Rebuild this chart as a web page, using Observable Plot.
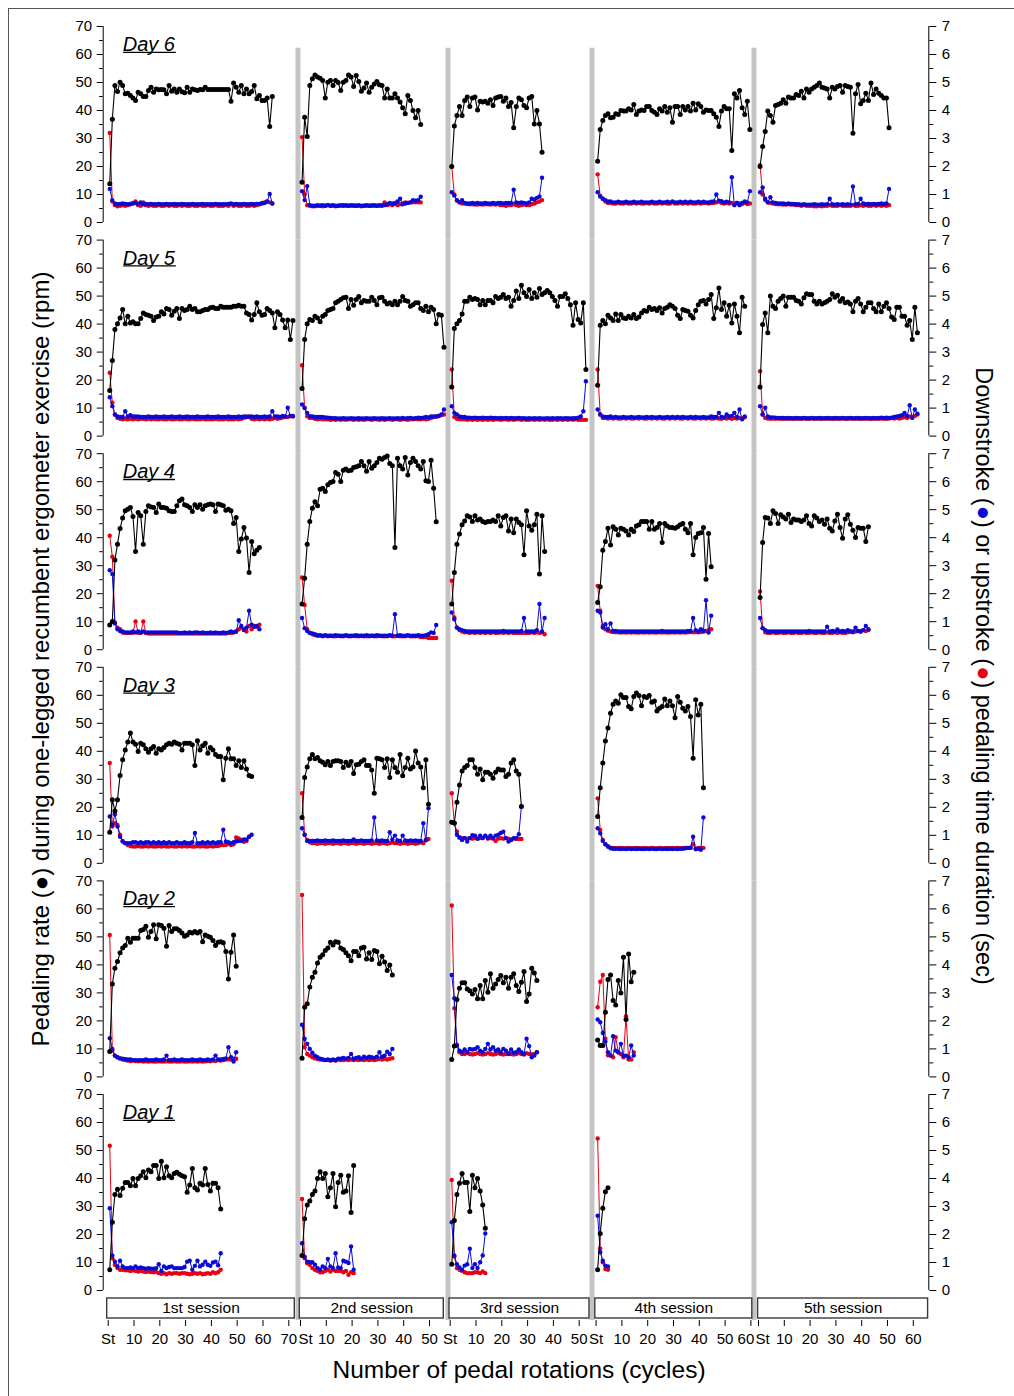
<!DOCTYPE html>
<html>
<head>
<meta charset="utf-8">
<script src="https://cdn.jsdelivr.net/npm/d3@7"></script>
<script src="https://cdn.jsdelivr.net/npm/@observablehq/plot@0.6"></script>
<style>
  body { margin: 0; background: #fff; }
  #wrap { position: relative; width: 1014px; height: 1396px; background: #fff; font-family: "Liberation Sans", Arial, sans-serif; overflow: hidden; }
  #border { position: absolute; left: 8px; top: 8px; right: -4px; bottom: -4px; border-left: 1px solid #555; border-top: 1px solid #555; pointer-events: none; }
  #main, #strip { position: absolute; left: 0; }
  #main { top: 0; }
  #strip { top: 1298px; }
  #xtitle { position: absolute; top: 1355px; left: 519px; transform: translateX(-50%); font-size: 24.5px; line-height: 30px; white-space: nowrap; color: #000; }
</style>
</head>
<body>
<div id="wrap">
  <div id="border"></div>
  <div id="main"></div>
  <div id="strip"></div>
  <div id="xtitle">Number of pedal rotations (cycles)</div>
</div>
<script>
// ---------------- categories & ticks ----------------
const days = [6, 5, 4, 3, 2, 1];
const sessionNames = ["1st session", "2nd session", "3rd session", "4th session", "5th session"];
const sessionTicks = [
  [0, 10, 20, 30, 40, 50, 60, 70],
  [0, 10, 20, 30, 40, 50],
  [0, 10, 20, 30, 40, 50],
  [0, 10, 20, 30, 40, 50, 60],
  [0, 10, 20, 30, 40, 50, 60]
];
const leftTicks = [0, 10, 20, 30, 40, 50, 60, 70];          // rpm
const leftMinor = [5, 15, 25, 35, 45, 55, 65];
const rightTicks = [0, 1, 2, 3, 4, 5, 6, 7];                 // sec
const rightMinor = [0.5, 1.5, 2.5, 3.5, 4.5, 5.5, 6.5];

// ---------------- data: pedaling rate (rpm), downstroke & upstroke time (sec) ----------------
// Day 6
const rate_d6_s1 = [13.8,36.9,48.9,46.8,50.1,48.9,46,46.2,45.4,44.5,43.6,46.5,46,45,45,47.1,48.3,46.5,47.7,47.4,47.5,47.4,46,48.9,46.9,47.7,46.5,47.7,46.7,46.3,48.3,46.5,47.7,47.4,47.1,47.5,47.4,48.3,47.5,47.5,47.5,47.5,47.5,47.5,47.5,47.5,47.5,43.3,49.8,48.3,46.5,48.9,46,47.7,46,46.8,48.9,44.2,45.4,43.6,43.6,44.5,34.3,45];
const up_d6_s1 = [3.2,0.75,0.62,0.58,0.6,0.62,0.6,0.62,0.65,0.7,0.75,0.62,0.6,0.72,0.62,0.6,0.62,0.6,0.6,0.62,0.6,0.6,0.62,0.6,0.62,0.6,0.6,0.62,0.6,0.62,0.6,0.6,0.62,0.6,0.6,0.62,0.6,0.6,0.62,0.6,0.6,0.62,0.6,0.6,0.6,0.62,0.6,0.65,0.6,0.62,0.6,0.6,0.62,0.6,0.6,0.62,0.6,0.62,0.65,0.7,0.72,0.75,0.72,0.68];
const down_d6_s1 = [1.2,0.8,0.68,0.65,0.66,0.68,0.66,0.65,0.66,0.68,0.7,0.66,0.72,0.65,0.66,0.65,0.66,0.65,0.65,0.66,0.65,0.65,0.66,0.65,0.65,0.66,0.65,0.65,0.66,0.65,0.65,0.65,0.66,0.65,0.65,0.65,0.66,0.65,0.65,0.65,0.65,0.66,0.65,0.65,0.65,0.65,0.66,0.68,0.65,0.66,0.65,0.65,0.66,0.65,0.65,0.66,0.65,0.66,0.66,0.68,0.7,0.75,1.02,0.68];
const rate_d6_s2 = [14.4,37.6,30.7,48.9,51.3,52.7,52,51.5,50.7,44.5,50.1,50.7,48.9,50.7,50,47.1,50.1,50.7,52.7,52,48.6,52.5,50.4,46.9,48,49.8,46.5,48.3,49.5,50.4,49.2,48.9,44.5,47.7,44.5,44.5,46,44.5,43,41,38.8,45.4,43.6,40,37.4,40,35];
const up_d6_s2 = [3.05,1.0,0.62,0.6,0.58,0.58,0.6,0.6,0.58,0.6,0.62,0.6,0.6,0.58,0.6,0.6,0.62,0.6,0.6,0.6,0.62,0.6,0.6,0.58,0.6,0.6,0.6,0.62,0.6,0.6,0.6,0.62,0.72,0.62,0.65,0.62,0.7,0.62,0.65,0.68,0.72,0.7,0.72,0.72,0.72,0.72,0.72];
const down_d6_s2 = [1.12,0.8,1.3,0.62,0.6,0.6,0.62,0.6,0.62,0.6,0.62,0.6,0.62,0.6,0.6,0.62,0.6,0.62,0.6,0.62,0.6,0.6,0.62,0.6,0.6,0.62,0.6,0.6,0.62,0.6,0.62,0.6,0.62,0.65,0.7,0.68,0.68,0.75,0.85,0.65,0.68,0.7,0.72,0.8,0.78,0.8,0.92];
const rate_d6_s3 = [20,34.5,38.2,41.4,38.2,43.6,44.8,41.4,44.5,44.8,40.2,43.3,43,43.3,42.6,43.8,41.8,44.5,44.8,45,43.3,44.5,41.4,42.9,33.8,41.4,44.5,43.8,41.8,41,44.5,45,35.2,40,35.2,25.1];
const up_d6_s3 = [2.0,1.0,0.78,0.72,0.68,0.68,0.66,0.65,0.65,0.64,0.64,0.65,0.64,0.65,0.65,0.64,0.65,0.64,0.65,0.62,0.62,0.6,0.62,0.62,0.66,0.62,0.6,0.62,0.64,0.62,0.62,0.65,0.68,0.72,0.75,0.8];
const down_d6_s3 = [1.08,0.96,0.8,0.72,0.8,0.7,0.68,0.68,0.7,0.68,0.7,0.68,0.68,0.7,0.68,0.68,0.7,0.68,0.7,0.7,0.68,0.7,0.7,0.7,1.17,0.72,0.7,0.72,0.7,0.68,0.72,0.85,0.82,0.88,0.93,1.6];
const rate_d6_s4 = [21.9,33.2,36.4,38.2,38.8,37.4,37.6,38.8,38.6,40,39.8,39.8,40.6,40.2,42.1,38.6,39.8,40.2,40,41.4,41.4,40,39.4,38.6,40.6,39.8,41.4,39.4,41,35.8,41.4,41.4,38.6,41.4,40.2,41.4,39.8,42.6,40.2,42.4,41.4,39.4,40.2,40,40,38.8,37.6,34.3,39.8,41.4,40.6,40.6,25.7,46,44.5,47.1,41,38.6,43.3,33.2];
const up_d6_s4 = [1.72,0.95,0.85,0.75,0.7,0.7,0.68,0.68,0.7,0.68,0.68,0.7,0.68,0.68,0.7,0.68,0.7,0.68,0.68,0.7,0.68,0.7,0.68,0.68,0.7,0.68,0.7,0.68,0.68,0.72,0.68,0.68,0.7,0.68,0.7,0.68,0.7,0.68,0.68,0.7,0.68,0.7,0.7,0.68,0.7,0.7,0.72,0.75,0.7,0.68,0.7,0.68,0.7,0.66,0.7,0.68,0.66,0.7,0.66,0.68];
const down_d6_s4 = [1.08,0.93,0.85,0.8,0.75,0.75,0.72,0.72,0.74,0.72,0.72,0.74,0.72,0.72,0.74,0.72,0.72,0.74,0.72,0.72,0.72,0.74,0.72,0.72,0.74,0.72,0.72,0.74,0.72,0.75,0.72,0.72,0.74,0.72,0.74,0.72,0.74,0.72,0.72,0.74,0.72,0.74,0.72,0.72,0.74,0.75,1.0,0.78,0.76,0.72,0.74,0.72,1.62,0.62,0.7,0.62,0.7,0.75,0.72,1.12];
const rate_d6_s5 = [20,27.1,32.5,39.8,38.2,35.8,41.8,42.1,42.6,43.8,42.6,44.8,44.5,44.5,45.7,45.4,46.9,44.5,47.7,46.5,47.7,48.3,48.9,49.8,48.3,48,47.7,44.5,48.3,47.7,48.6,48.9,46.5,48.9,48.6,48.3,31.9,46,49.3,42.4,43.6,46.2,43.6,49.8,45.7,47.7,46.2,45.4,44.5,44.5,33.8];
const up_d6_s5 = [2.05,1.0,0.8,0.72,0.7,0.68,0.66,0.65,0.65,0.64,0.64,0.65,0.64,0.64,0.62,0.62,0.6,0.62,0.6,0.6,0.6,0.58,0.58,0.6,0.58,0.6,0.6,0.62,0.6,0.6,0.6,0.62,0.6,0.6,0.6,0.6,0.62,0.6,0.6,0.62,0.6,0.62,0.6,0.6,0.62,0.6,0.62,0.6,0.62,0.6,0.62];
const down_d6_s5 = [1.08,1.25,0.85,0.72,0.9,0.72,0.7,0.68,0.68,0.68,0.66,0.68,0.66,0.66,0.65,0.65,0.64,0.65,0.64,0.64,0.64,0.65,0.64,0.64,0.65,0.64,0.65,0.85,0.65,0.64,0.65,0.64,0.65,0.64,0.65,0.64,1.29,0.65,0.66,0.85,0.68,0.65,0.66,0.65,0.66,0.65,0.66,0.68,0.66,0.68,1.2];
// Day 5
const rate_d5_s1 = [16.3,27,38.1,40.1,42.2,45.2,40.1,42.8,40.4,40.8,40.1,40.1,42,44,43.4,43.2,42.8,41.3,42.5,42.8,44.4,43.6,45.6,45.2,43.2,44.6,45.6,42,45.6,44.9,45.2,46.4,45.2,45.6,44.4,44.4,44.9,45.2,45.2,45.8,46,45.6,45.6,46.4,46,46,46,46,46.4,46.4,46.7,46.4,46.4,44,43.4,41.5,43.4,47.6,44.4,43.2,43.4,45.6,44.9,44,38.7,44.4,43.4,41.5,38.7,41.5,34.5,41.3];
const up_d5_s1 = [2.26,1.19,0.77,0.65,0.62,0.6,0.62,0.6,0.62,0.6,0.62,0.6,0.62,0.62,0.6,0.62,0.6,0.62,0.6,0.6,0.62,0.6,0.6,0.62,0.6,0.6,0.62,0.6,0.6,0.62,0.6,0.6,0.62,0.6,0.6,0.6,0.62,0.6,0.6,0.6,0.6,0.62,0.6,0.6,0.6,0.62,0.6,0.6,0.6,0.62,0.6,0.62,0.65,0.7,0.68,0.62,0.6,0.62,0.6,0.62,0.6,0.62,0.6,0.62,0.65,0.62,0.64,0.66,0.68,0.68,0.72,0.7];
const down_d5_s1 = [1.39,1.07,0.77,0.7,0.68,0.68,0.89,0.7,0.75,0.7,0.7,0.7,0.68,0.68,0.68,0.7,0.68,0.68,0.7,0.68,0.68,0.7,0.68,0.68,0.7,0.68,0.68,0.7,0.68,0.68,0.7,0.68,0.68,0.68,0.7,0.68,0.68,0.68,0.7,0.68,0.68,0.68,0.7,0.68,0.68,0.68,0.7,0.68,0.68,0.68,0.7,0.68,0.7,0.68,0.7,0.7,0.68,0.7,0.68,0.68,0.7,0.68,0.7,0.89,0.7,0.7,0.68,0.72,0.7,1.01,0.72,0.72];
const rate_d5_s2 = [17,34.5,40.1,41.6,41.3,42.8,42.2,40.8,42.8,43.4,44.9,45.2,45.6,47.6,48.2,48.8,49.4,49.6,45.6,48.8,46.7,48.8,49.9,47.6,48.4,48.2,48.2,49.6,48.4,46.9,49.4,49.6,48.2,47.2,47.6,46.9,48.2,46.9,48.2,49.9,48.4,48.2,46.4,46.9,47.6,47.6,45.6,44.9,46.4,44.4,46,45.2,40.1,43.4,43.2,31.7];
const up_d5_s2 = [2.53,1.01,0.71,0.65,0.65,0.62,0.6,0.62,0.6,0.6,0.6,0.58,0.6,0.58,0.6,0.58,0.6,0.58,0.6,0.6,0.58,0.6,0.58,0.6,0.58,0.6,0.6,0.58,0.6,0.6,0.58,0.6,0.58,0.6,0.6,0.58,0.6,0.6,0.58,0.6,0.6,0.58,0.6,0.6,0.62,0.6,0.6,0.62,0.6,0.62,0.65,0.68,0.7,0.72,0.75,0.77];
const down_d5_s2 = [1.13,1.0,0.83,0.71,0.7,0.68,0.68,0.68,0.68,0.67,0.66,0.65,0.64,0.64,0.63,0.63,0.64,0.63,0.63,0.64,0.63,0.63,0.64,0.63,0.63,0.64,0.63,0.63,0.64,0.63,0.63,0.64,0.63,0.63,0.64,0.63,0.63,0.64,0.63,0.65,0.63,0.64,0.65,0.63,0.64,0.66,0.65,0.66,0.68,0.67,0.7,0.7,0.7,0.72,0.77,0.95];
const rate_d5_s3 = [17.5,38.4,40.1,41.3,43.6,48.2,48.2,49.6,48.8,49.1,48.8,46.9,48.4,46.9,48.4,48.4,47.6,49.9,49.1,49.6,50.6,49.1,49.6,46.4,48.4,51.8,49.1,53.9,51.2,49.9,52.4,49.1,51.2,49.6,52.7,50.6,51.2,52,51.2,49.9,48.4,46.4,49.9,49.9,50.8,49.1,46.9,39.6,47.6,41.6,40.4,47.6,23.8];
const up_d5_s3 = [2.38,0.68,0.62,0.6,0.6,0.6,0.58,0.6,0.58,0.6,0.58,0.6,0.58,0.6,0.58,0.6,0.58,0.6,0.6,0.58,0.6,0.6,0.58,0.6,0.58,0.6,0.6,0.58,0.6,0.58,0.58,0.6,0.58,0.6,0.58,0.6,0.58,0.6,0.58,0.58,0.6,0.58,0.6,0.58,0.6,0.58,0.6,0.58,0.6,0.58,0.58,0.58,0.58];
const down_d5_s3 = [1.07,0.83,0.77,0.7,0.68,0.68,0.66,0.66,0.65,0.66,0.65,0.65,0.66,0.65,0.65,0.66,0.65,0.65,0.64,0.65,0.64,0.65,0.64,0.65,0.64,0.64,0.65,0.64,0.64,0.63,0.64,0.63,0.64,0.63,0.64,0.63,0.63,0.64,0.63,0.64,0.63,0.64,0.64,0.63,0.64,0.64,0.63,0.64,0.64,0.66,0.7,0.89,1.96];
const rate_d5_s4 = [18.2,39.6,41.3,40.1,43.2,42.2,41.3,43.6,41.3,43.4,42.2,42,42.8,42.2,43.4,42,42.5,44,44.9,44.6,46,45.2,45.6,44.9,45.8,44,45.6,46,46.9,46.4,45.6,43.2,42,45.2,44.9,44.6,43.2,42.2,44.9,46.9,48.2,48.4,47.2,48.8,50.6,42,45.8,52.9,45.2,47.6,42.8,46.7,40.4,47.2,42.8,36.9,49.6,46.4];
const up_d5_s4 = [2.38,0.77,0.65,0.65,0.63,0.65,0.63,0.65,0.63,0.63,0.65,0.63,0.65,0.63,0.63,0.65,0.63,0.65,0.63,0.63,0.65,0.63,0.65,0.63,0.65,0.63,0.63,0.65,0.63,0.65,0.63,0.65,0.63,0.63,0.65,0.63,0.65,0.63,0.63,0.65,0.63,0.65,0.63,0.65,0.63,0.63,0.65,0.63,0.62,0.65,0.63,0.65,0.62,0.65,0.63,0.65,0.62,0.67];
const down_d5_s4 = [0.95,0.77,0.7,0.68,0.68,0.7,0.67,0.68,0.67,0.67,0.68,0.67,0.67,0.68,0.67,0.67,0.68,0.67,0.67,0.68,0.67,0.68,0.67,0.67,0.68,0.67,0.67,0.68,0.67,0.68,0.67,0.68,0.67,0.68,0.67,0.67,0.68,0.67,0.68,0.67,0.67,0.68,0.67,0.67,0.7,0.68,0.68,0.83,0.68,0.67,0.77,0.7,0.72,0.83,0.68,0.95,0.6,0.7];
const rate_d5_s5 = [17.5,39.9,44,36.9,50,46.4,45.6,48.2,49.1,50,46.4,49.6,49.6,49.6,48.4,48.2,47.2,49.4,50.8,50.6,50.6,48.2,47.2,48.2,47.2,47.6,48.2,48.8,50.8,49.6,50.3,48.2,49.1,47.6,47.9,47.2,44.4,48.2,49.1,47.2,44.4,46,47.6,47.6,45.6,44.4,47.2,44.4,46.4,47.6,45.6,42.5,41.6,46,46,42.8,42.8,39.6,41.3,34.5,46,36.9];
const up_d5_s5 = [2.32,0.77,0.65,0.63,0.62,0.63,0.62,0.63,0.62,0.62,0.63,0.62,0.63,0.62,0.62,0.63,0.62,0.63,0.62,0.62,0.63,0.62,0.63,0.62,0.62,0.63,0.62,0.63,0.62,0.62,0.63,0.62,0.63,0.62,0.62,0.63,0.62,0.63,0.62,0.62,0.63,0.62,0.63,0.62,0.62,0.63,0.62,0.63,0.62,0.62,0.63,0.65,0.63,0.65,0.63,0.65,0.68,0.65,0.7,0.68,0.72,0.77];
const down_d5_s5 = [1.07,0.77,1.01,0.7,0.67,0.67,0.66,0.65,0.65,0.65,0.64,0.65,0.64,0.64,0.65,0.64,0.64,0.65,0.64,0.64,0.65,0.64,0.64,0.65,0.64,0.64,0.65,0.64,0.64,0.65,0.64,0.64,0.65,0.64,0.64,0.65,0.64,0.64,0.65,0.64,0.64,0.65,0.64,0.64,0.65,0.64,0.65,0.66,0.65,0.66,0.65,0.66,0.68,0.7,0.72,0.75,0.83,0.72,1.1,0.65,0.95,0.8];
// Day 4
const rate_d4_s1 = [8.8,10.1,32,37.7,43.3,47,49.6,50.2,50.8,47.6,35.1,49,47.8,37.7,49.4,51.4,51,50.8,49,52,50.8,50.8,50.5,49.6,49.4,49.4,51.4,53.2,53.8,51.8,51.4,50.8,49.4,51.8,50.8,51.8,50.2,51.4,51.8,52,51.8,49.4,52,51.8,51.4,49.8,50.2,49.6,45.1,47.2,35.1,39.5,43.6,39.9,27.6,38.6,34.3,35.5,36.5];
const up_d4_s1 = [4.07,3.32,0.97,0.79,0.73,0.61,0.6,0.6,0.6,0.6,1.01,0.6,0.6,1.01,0.6,0.58,0.58,0.58,0.58,0.58,0.58,0.58,0.58,0.58,0.58,0.58,0.58,0.58,0.58,0.58,0.58,0.58,0.58,0.58,0.58,0.58,0.58,0.58,0.58,0.58,0.58,0.58,0.58,0.58,0.58,0.58,0.6,0.6,0.62,0.65,0.73,0.79,0.73,0.65,0.85,0.73,0.85,0.82,0.89];
const down_d4_s1 = [2.84,2.7,0.94,0.73,0.67,0.65,0.62,0.62,0.62,0.65,0.62,0.65,0.62,0.65,0.62,0.62,0.62,0.62,0.62,0.62,0.62,0.62,0.62,0.62,0.62,0.62,0.62,0.6,0.6,0.62,0.6,0.62,0.6,0.62,0.62,0.6,0.62,0.6,0.6,0.62,0.6,0.62,0.6,0.6,0.62,0.6,0.62,0.65,0.62,0.65,1.05,0.85,0.7,0.79,1.39,0.89,0.82,0.85,0.73];
const rate_d4_s2 = [16.3,25.5,37.7,45.8,50.5,52.8,51.4,57.3,57.7,56.5,58.9,59.7,60.1,63.3,62.7,60.1,64.1,64.5,63.9,64.1,65.1,65.3,65.7,67.2,65.7,63.7,67.2,64.8,65.7,66.9,68.4,68,68.6,69.2,66.5,65.7,36.5,68.4,65.7,64.5,68.6,62.4,66.9,68.4,67.2,65.7,64.5,67.2,60.3,60.1,67.7,57.7,45.7];
const up_d4_s2 = [2.58,1.6,0.73,0.61,0.55,0.52,0.5,0.5,0.48,0.5,0.48,0.5,0.48,0.48,0.5,0.48,0.48,0.5,0.48,0.48,0.5,0.48,0.48,0.5,0.48,0.48,0.48,0.5,0.48,0.48,0.5,0.48,0.48,0.48,0.5,0.48,0.48,0.5,0.48,0.48,0.48,0.5,0.48,0.48,0.48,0.48,0.45,0.45,0.45,0.42,0.42,0.42,0.42];
const down_d4_s2 = [1.13,0.77,0.67,0.6,0.58,0.55,0.52,0.52,0.5,0.52,0.5,0.5,0.5,0.52,0.5,0.5,0.5,0.52,0.5,0.5,0.5,0.52,0.5,0.5,0.5,0.52,0.5,0.5,0.5,0.52,0.5,0.5,0.5,0.5,0.52,0.5,1.27,0.5,0.52,0.5,0.5,0.52,0.5,0.5,0.5,0.52,0.5,0.5,0.52,0.55,0.62,0.6,0.88];
const rate_d4_s3 = [16.3,27.6,37.7,41.3,44.6,46,47.8,47.4,45.8,47.8,46.3,46.7,45.8,45.4,45.8,45.8,46.3,45.8,47.8,44.2,47.2,47.8,42.4,46.7,41.8,46.7,45.4,44.6,33.9,49.6,44.2,42.7,44.6,48.4,27,47.8,35.1];
const up_d4_s3 = [2.46,1.15,0.79,0.7,0.65,0.62,0.62,0.6,0.62,0.6,0.62,0.6,0.62,0.6,0.62,0.6,0.62,0.6,0.6,0.62,0.6,0.62,0.6,0.62,0.6,0.6,0.6,0.6,0.6,0.6,0.6,0.62,0.6,0.62,0.6,0.62,0.55];
const down_d4_s3 = [1.33,1.09,0.79,0.73,0.7,0.67,0.65,0.65,0.65,0.65,0.65,0.65,0.65,0.65,0.65,0.65,0.65,0.65,0.65,0.65,0.67,0.65,0.65,0.65,0.65,0.65,0.65,0.67,1.13,0.65,0.65,0.65,0.65,0.7,1.63,0.65,1.13];
const rate_d4_s4 = [16.9,22.5,35.5,38.6,43.4,37.4,43.9,43,41,43.4,43,42.4,41,43,42.2,44.2,44.6,45.8,45.8,45.8,43,45.8,43,43.6,45.1,38.3,45.1,44.2,43.6,43.6,43.4,43.9,44.6,45.1,43,41.8,45.1,33.9,40.1,41.5,41.8,43.6,25.2,41.5,29.6];
const up_d4_s4 = [2.28,1.39,0.85,0.73,0.68,0.65,0.63,0.62,0.62,0.61,0.62,0.61,0.62,0.61,0.62,0.61,0.61,0.62,0.61,0.62,0.61,0.62,0.61,0.61,0.62,0.61,0.62,0.61,0.61,0.62,0.61,0.62,0.61,0.62,0.61,0.62,0.63,0.62,0.63,0.62,0.63,0.65,0.67,0.7,0.73];
const down_d4_s4 = [1.39,1.33,0.79,0.91,0.73,0.94,0.67,0.67,0.65,0.65,0.65,0.65,0.65,0.65,0.65,0.65,0.65,0.65,0.65,0.65,0.65,0.65,0.65,0.65,0.65,0.67,0.65,0.65,0.65,0.65,0.65,0.65,0.65,0.65,0.65,0.67,0.67,1.13,0.7,0.65,0.73,0.67,1.77,0.61,1.21];
const rate_d4_s5 = [18.6,38.3,47.2,47,45.1,49.6,48.6,45.1,48.2,47.4,46.7,48.4,45.4,46.7,46.3,46.3,45.8,46.3,47.8,45.1,44.2,47.8,47,45.8,46.3,44.8,46.7,43.4,42.4,46,48.4,43.6,39.8,46.7,48.2,44.8,42.7,40.1,43.6,43.4,43.4,38.6,43.9];
const up_d4_s5 = [2.08,0.77,0.62,0.6,0.6,0.62,0.6,0.6,0.62,0.6,0.6,0.62,0.6,0.6,0.62,0.6,0.6,0.62,0.6,0.6,0.62,0.6,0.6,0.62,0.6,0.6,0.62,0.6,0.6,0.62,0.6,0.62,0.6,0.6,0.62,0.65,0.62,0.65,0.67,0.65,0.7,0.67,0.7];
const down_d4_s5 = [1.13,0.77,0.7,0.65,0.65,0.65,0.65,0.65,0.65,0.65,0.65,0.65,0.65,0.65,0.65,0.65,0.65,0.65,0.65,0.67,0.65,0.65,0.65,0.65,0.65,0.65,0.82,0.65,0.67,0.65,0.72,0.65,0.67,0.65,0.7,0.65,0.65,0.79,0.67,0.65,0.7,0.85,0.73];
// Day 3
const rate_d3_s1 = [11.1,22.7,18.7,22.7,31.4,37,40.5,43.3,46.5,43.3,42.5,39.9,42.9,42.3,40.9,39.7,40.9,41.7,39.3,40.9,40.5,41.4,42.3,42.9,42.5,43.3,42.9,42.5,40.5,42.9,42.9,42.9,42.3,34.9,43.8,40.5,42,42.9,39.3,41.4,40.5,38.9,38.1,38.1,29.8,37.5,40.9,37.3,37.3,34.9,36.6,34.2,36.6,33.7,31.4,31];
const up_d3_s1 = [3.58,1.31,1.43,1.37,1.02,0.8,0.72,0.65,0.62,0.6,0.6,0.62,0.6,0.6,0.62,0.6,0.62,0.6,0.6,0.62,0.6,0.62,0.6,0.6,0.62,0.6,0.6,0.62,0.6,0.62,0.6,0.62,0.6,0.6,0.62,0.6,0.62,0.6,0.6,0.62,0.6,0.62,0.62,0.65,0.65,0.65,0.7,0.65,0.68,0.92,0.89,0.83,0.77,0.8,0.95];
const down_d3_s1 = [1.67,1.37,1.75,1.31,0.95,0.78,0.72,0.72,0.72,0.75,0.75,0.72,0.75,0.72,0.75,0.75,0.72,0.75,0.72,0.75,0.72,0.75,0.72,0.75,0.72,0.72,0.75,0.72,0.72,0.75,0.72,0.72,0.75,1.08,0.72,0.72,0.75,0.72,0.75,0.72,0.75,0.72,0.75,0.75,1.2,0.78,0.75,0.72,0.75,0.78,0.8,0.8,0.85,0.85,0.95,1.02];
const rate_d3_s2 = [16.4,30.6,34.4,37.3,38.9,37.3,37.8,36.6,36.1,35.2,36.4,34.9,36.4,36.6,36.6,36.4,34.2,36.1,34.9,36.4,32.1,35.2,35.4,36.4,37,34.9,34.9,33.3,25,37.5,37.3,37,34.2,37.3,30.6,37,34.2,32.5,38.9,31.3,34.2,37.5,33.7,34.4,40.1,35.8,34.4,27,37,21.1];
const up_d3_s2 = [2.5,1.02,0.83,0.75,0.72,0.72,0.7,0.72,0.72,0.7,0.72,0.72,0.7,0.72,0.72,0.7,0.72,0.72,0.7,0.72,0.72,0.7,0.72,0.72,0.7,0.72,0.72,0.7,0.72,0.72,0.7,0.72,0.72,0.7,0.72,0.75,0.72,0.72,0.7,0.72,0.72,0.7,0.72,0.72,0.7,0.72,0.75,0.72,0.85,0.87];
const down_d3_s2 = [1.25,1.02,0.8,0.8,0.8,0.8,0.82,0.8,0.8,0.82,0.8,0.8,0.82,0.8,0.8,0.8,0.82,0.8,0.8,0.8,0.85,0.8,0.8,0.82,0.8,0.8,0.8,0.82,1.64,0.82,0.8,0.82,0.8,0.8,1.11,0.85,0.99,0.82,0.8,0.99,0.82,0.8,0.82,0.8,0.82,0.8,0.8,1.43,0.82,1.97];
const rate_d3_s3 = [14.7,14.4,21.8,28,33,34.2,34.9,37,37,34.2,31.8,33.7,29.8,32.5,32.5,31.8,30.4,32.5,33.7,33.3,33.3,31,31.8,35.8,37,33,31.8,20.3];
const up_d3_s3 = [2.5,1.43,1.14,0.92,0.9,0.9,0.88,0.9,0.88,0.9,0.88,0.9,0.9,0.98,0.88,0.9,0.88,0.8,0.88,0.9,0.88,0.9,0.88,0.85,0.88,0.87,0.87,0.87];
const down_d3_s3 = [1.47,1.43,1.02,0.92,0.83,0.9,0.78,0.9,1.0,0.99,0.88,0.99,0.9,0.99,0.9,0.99,0.9,0.99,1.02,1.08,1.13,0.9,0.78,0.83,0.9,0.9,1.04,2.03];
const rate_d3_s4 = [16.7,27,35.8,43.7,48.3,53.6,56.8,58,57.2,60.2,59.2,59.2,56,55.2,59.6,60.8,59.9,56.3,59.6,59.2,59.9,57.5,58,54.4,55.4,56,58.7,56.3,58,56.3,52,59.6,57.5,55.4,54.4,56,52.4,37.5,58.4,53,56.8,27];
const up_d3_s4 = [2.32,1.19,0.83,0.68,0.6,0.56,0.55,0.54,0.54,0.55,0.54,0.54,0.55,0.54,0.54,0.55,0.54,0.54,0.55,0.54,0.54,0.55,0.54,0.54,0.55,0.54,0.54,0.55,0.54,0.55,0.54,0.55,0.54,0.55,0.55,0.55,0.56,0.68,0.5,0.55,0.55,0.55];
const down_d3_s4 = [1.25,1.07,0.8,0.68,0.6,0.54,0.52,0.52,0.52,0.51,0.52,0.51,0.52,0.51,0.52,0.51,0.52,0.51,0.51,0.52,0.51,0.52,0.51,0.51,0.52,0.51,0.52,0.51,0.52,0.51,0.52,0.51,0.52,0.52,0.54,0.55,0.55,0.95,0.52,0.52,0.48,1.64];
// Day 2
const rate_d2_s1 = [9.1,33.2,38.8,41.2,44.3,46,46.9,49.5,48.1,49.5,49.5,49.5,52.3,52.6,53.8,49.9,51.9,54.3,49.3,54.3,54.1,53.1,46.7,54.1,51.9,52.9,52.9,52.3,51.4,50.2,50.7,51.7,51.4,51.9,51.4,51.9,48.3,50.7,50.2,49.9,48.7,46.9,48.1,48.3,47.9,44.8,35,44.5,50.7,39.5];
const up_d2_s1 = [5.07,0.94,0.76,0.7,0.66,0.62,0.6,0.58,0.57,0.58,0.57,0.56,0.57,0.55,0.56,0.55,0.56,0.55,0.55,0.56,0.55,0.55,0.56,0.55,0.55,0.56,0.55,0.55,0.56,0.55,0.55,0.56,0.55,0.56,0.55,0.56,0.55,0.56,0.57,0.56,0.58,0.57,0.6,0.58,0.6,0.62,0.63,0.62,0.65,0.65];
const down_d2_s1 = [1.38,1.0,0.76,0.7,0.66,0.65,0.63,0.62,0.62,0.6,0.6,0.6,0.6,0.6,0.62,0.6,0.6,0.6,0.62,0.6,0.6,0.62,0.76,0.6,0.6,0.62,0.6,0.6,0.62,0.6,0.6,0.6,0.62,0.6,0.6,0.62,0.6,0.6,0.62,0.6,0.62,0.76,0.62,0.62,0.64,0.66,1.06,0.7,0.55,0.88];
const rate_d2_s2 = [6.7,24.9,26.1,32.1,35.6,37.4,40.7,42.7,43.6,45.1,46,48.1,47.1,48.3,48.1,46,45.5,44.3,43.3,41.5,44.8,44.8,43.3,46,46.3,42.1,44.3,41.9,45.1,44.8,40.4,43.1,41,38,40,36.4];
const up_d2_s2 = [6.5,1.06,0.82,0.76,0.7,0.66,0.64,0.62,0.62,0.6,0.6,0.58,0.6,0.58,0.62,0.6,0.6,0.62,0.6,0.62,0.6,0.62,0.6,0.62,0.6,0.62,0.6,0.62,0.6,0.62,0.65,0.62,0.65,0.62,0.65,0.67];
const down_d2_s2 = [1.86,1.36,1.18,1.0,0.86,0.76,0.7,0.65,0.62,0.6,0.62,0.6,0.62,0.6,0.65,0.65,0.68,0.65,0.68,0.82,0.65,0.68,0.7,0.65,0.72,0.68,0.72,0.7,0.68,0.72,0.88,0.72,0.76,0.9,0.82,1.0];
const rate_d2_s3 = [6.2,11,27.6,31.7,33.6,33.6,31.4,30.8,29.6,31.2,27.9,32.6,27.9,34.4,30.2,36.8,31.7,33.2,34.8,36.2,33.6,35.6,31.7,35.6,36.8,32.6,30.5,33.8,37.6,26.9,29.6,38.8,37.1,34.4];
const up_d2_s3 = [6.12,2.45,1.1,0.88,0.82,0.82,0.85,0.82,0.8,0.82,0.85,0.82,0.8,0.82,0.85,0.82,0.8,0.82,0.85,0.82,0.8,0.82,0.85,0.82,0.8,0.82,0.85,0.82,0.8,0.85,0.82,0.8,0.82,0.88];
const down_d2_s3 = [3.64,2.81,1.14,0.94,0.88,0.98,0.88,1.0,0.98,1.0,1.06,0.94,0.88,1.0,1.18,0.98,1.06,0.94,0.98,0.88,1.0,0.94,0.82,0.98,0.86,0.88,0.98,0.88,0.82,1.36,1.1,0.7,0.76,0.88];
const rate_d2_s4 = [13.2,11.2,11.2,23.1,34.8,36.4,27.3,25.7,34.4,30,42.7,20.5,43.9,34,37.4];
const up_d2_s4 = [2.49,3.4,3.64,1.36,0.77,0.77,0.7,1.42,0.88,0.82,0.7,2.17,0.62,0.62,0.88];
const down_d2_s4 = [2.05,1.95,1.57,1.26,0.88,0.76,1.45,0.94,0.88,1.18,0.76,0.76,0.7,1.12,0.76];
// Day 1
const rate_d1_s1 = [7.4,24.4,34.3,36.2,33.9,36.5,38.6,38.6,37.4,40,37.4,40,41,42.4,40.3,43,42.4,44.6,44.6,40,46.2,40.3,44.2,41,40.3,41.8,42.2,41.5,41,40.6,35.1,37.7,43.6,36.7,35.9,38.3,37.7,43.6,37.9,35.5,38.3,38.3,36.7,29.1];
const up_d1_s1 = [5.17,1.15,0.92,0.8,0.74,0.74,0.72,0.72,0.7,0.72,0.7,0.68,0.7,0.68,0.66,0.68,0.66,0.65,0.66,0.62,0.6,0.62,0.58,0.62,0.6,0.62,0.62,0.6,0.62,0.62,0.6,0.58,0.6,0.62,0.6,0.62,0.58,0.6,0.62,0.6,0.65,0.62,0.65,0.74];
const down_d1_s1 = [2.94,1.25,1.03,0.86,1.06,0.86,0.8,0.8,0.82,0.8,0.86,0.8,0.82,0.8,0.78,0.8,0.78,0.78,0.8,0.94,0.7,0.86,0.8,0.84,0.86,0.8,0.8,0.8,0.8,0.84,1.03,1.06,0.74,0.88,1.06,0.86,0.92,1.03,0.92,0.88,1.0,1.03,0.9,1.33];
const rate_d1_s2 = [12.5,25.6,30.5,32,34.3,35.5,40,42.4,40,41.8,33.5,36.7,41.8,29.9,38.6,41.2,35.1,35.5,41,27.9,44.6];
const up_d1_s2 = [3.27,1.15,0.97,0.92,0.8,0.74,0.7,0.65,0.65,0.7,0.74,0.68,0.74,0.7,0.7,0.7,0.65,0.7,0.56,0.65,0.62];
const down_d1_s2 = [1.69,1.21,1.03,1.01,1.01,0.92,0.8,0.74,0.86,0.8,1.13,0.86,0.8,1.33,0.82,0.8,1.06,1.03,0.98,1.57,0.74];
const rate_d1_s3 = [9.4,25,34.3,38.3,41.8,38.6,38.6,28.2,41.2,36.7,40,35.5,30.5,22.2];
const up_d1_s3 = [3.95,1.21,0.8,0.74,0.7,0.65,0.62,0.62,0.62,0.65,0.65,0.62,0.68,0.62];
const down_d1_s3 = [2.44,1.25,0.94,0.82,0.74,0.89,0.94,1.49,0.8,0.94,0.8,1.01,1.25,2.04];
const rate_d1_s4 = [7.4,20.4,29.4,35.3,36.7];
const up_d1_s4 = [5.43,1.49,1.01,0.77,0.74];
const down_d1_s4 = [2.67,1.37,1.06,0.89,0.86];

// panel registry: [day, session, rate, downstroke, upstroke]
const panels = [
  [6,1,rate_d6_s1,down_d6_s1,up_d6_s1],[6,2,rate_d6_s2,down_d6_s2,up_d6_s2],[6,3,rate_d6_s3,down_d6_s3,up_d6_s3],[6,4,rate_d6_s4,down_d6_s4,up_d6_s4],[6,5,rate_d6_s5,down_d6_s5,up_d6_s5],
  [5,1,rate_d5_s1,down_d5_s1,up_d5_s1],[5,2,rate_d5_s2,down_d5_s2,up_d5_s2],[5,3,rate_d5_s3,down_d5_s3,up_d5_s3],[5,4,rate_d5_s4,down_d5_s4,up_d5_s4],[5,5,rate_d5_s5,down_d5_s5,up_d5_s5],
  [4,1,rate_d4_s1,down_d4_s1,up_d4_s1],[4,2,rate_d4_s2,down_d4_s2,up_d4_s2],[4,3,rate_d4_s3,down_d4_s3,up_d4_s3],[4,4,rate_d4_s4,down_d4_s4,up_d4_s4],[4,5,rate_d4_s5,down_d4_s5,up_d4_s5],
  [3,1,rate_d3_s1,down_d3_s1,up_d3_s1],[3,2,rate_d3_s2,down_d3_s2,up_d3_s2],[3,3,rate_d3_s3,down_d3_s3,up_d3_s3],[3,4,rate_d3_s4,down_d3_s4,up_d3_s4],
  [2,1,rate_d2_s1,down_d2_s1,up_d2_s1],[2,2,rate_d2_s2,down_d2_s2,up_d2_s2],[2,3,rate_d2_s3,down_d2_s3,up_d2_s3],[2,4,rate_d2_s4,down_d2_s4,up_d2_s4],
  [1,1,rate_d1_s1,down_d1_s1,up_d1_s1],[1,2,rate_d1_s2,down_d1_s2,up_d1_s2],[1,3,rate_d1_s3,down_d1_s3,up_d1_s3],[1,4,rate_d1_s4,down_d1_s4,up_d1_s4]
];

// ---------------- layout (not data) ----------------
const W = 1014;
const axisLeftPx = 102.7, axisRightPx = 928.3;
const originPx = 107.7, pxPerCycle = 2.58;
const sessionStartPx = [107.7, 300, 449.7, 595.6, 758];
const boxPx = [[106.7, 294.3], [299.3, 443.3], [449, 589], [594.8, 751.8], [757.6, 927.6]];
const sepPx = [297.5, 447.5, 591.5, 753.5];
const labelNudgePx = new Map([["2-0", 5], ["5-0", 4], ["4-60", -5]]);  // crowded tick labels at panel joins
const rowTop = 26, rowH = 196, rowStep = 213.6;
const sepTopPx = 47.7, stripTopPx = 1298, stripAxisPx = 1320, stripH = 56;
const firstCycle = 0.6;
const RED = "#e60012", BLUE = "#0a0ad8", GREY = "#c4c4c4";
const FONT = "'Liberation Sans', Arial, Helvetica, sans-serif";

const pxToX = px => (px - originPx) / pxPerCycle;
const sessionX = (s, c) => pxToX(sessionStartPx[s - 1]) + c;
const xDomain = [pxToX(axisLeftPx), pxToX(axisRightPx)];

// build tables
const rateRows = [], downRows = [], upRows = [];
for (const [day, s, rate, down, up] of panels) {
  const key = day + "-" + s;
  rate.forEach((v, i) => rateRows.push({day, key, x: sessionX(s, i + firstCycle), y: v}));
  down.forEach((v, i) => downRows.push({day, key, x: sessionX(s, i + firstCycle), y: v * 10}));
  up.forEach((v, i) => upRows.push({day, key, x: sessionX(s, i + firstCycle), y: v * 10}));
}

const unitsPerPx = 70 / rowH;
const gapUnits = (rowStep - rowH) * unitsPerPx;
const mainBottom = rowTop + (days.length - 1) * rowStep + rowH;
const sepRows = [];
days.forEach((day, k) => sepPx.forEach(px => sepRows.push({
  day, x: pxToX(px),
  y1: k === days.length - 1 ? -(stripTopPx - mainBottom) * unitsPerPx : -gapUnits,
  y2: k === 0 ? 70 - (sepTopPx - rowTop) * unitsPerPx : 70
})));

const padInner = 1 - rowH / rowStep;

const main = Plot.plot({
  width: W,
  height: stripTopPx,
  marginTop: rowTop,
  marginBottom: stripTopPx - mainBottom,
  marginLeft: axisLeftPx,
  marginRight: W - axisRightPx,
  style: {fontFamily: FONT, fontSize: "15px", background: "transparent", overflow: "visible", color: "#000"},
  x: {domain: xDomain, axis: null},
  y: {domain: [0, 70]},
  fy: {domain: days, axis: null, paddingInner: padInner, paddingOuter: 0, round: false},
  marks: [
    Plot.ruleX(sepRows, {x: "x", y1: "y1", y2: "y2", fy: "day", stroke: GREY, strokeWidth: 5}),
    Plot.ruleX([xDomain[0]], {stroke: "#000", strokeWidth: 1}),
    Plot.ruleX([xDomain[1]], {stroke: "#000", strokeWidth: 1}),
    Plot.axisY(leftTicks, {anchor: "left", tickSize: 6, tickPadding: 5, fontSize: 15, label: null}),
    Plot.axisY(leftMinor, {anchor: "left", tickSize: 3.5, tickFormat: () => "", label: null}),
    Plot.axisY(rightTicks.map(s => s * 10), {anchor: "right", tickSize: 7, tickPadding: 6, fontSize: 15, tickFormat: v => String(v / 10), label: null}),
    Plot.axisY(rightMinor.map(s => s * 10), {anchor: "right", tickSize: 4, tickFormat: () => "", label: null}),
    Plot.line(upRows, {x: "x", y: "y", z: "key", fy: "day", stroke: RED, strokeWidth: 1}),
    Plot.dot(upRows, {x: "x", y: "y", fy: "day", fill: RED, r: 2.2}),
    Plot.line(downRows, {x: "x", y: "y", z: "key", fy: "day", stroke: BLUE, strokeWidth: 1}),
    Plot.dot(downRows, {x: "x", y: "y", fy: "day", fill: BLUE, r: 2.2}),
    Plot.line(rateRows, {x: "x", y: "y", z: "key", fy: "day", stroke: "#000", strokeWidth: 1.1}),
    Plot.dot(rateRows, {x: "x", y: "y", fy: "day", fill: "#000", r: 2.5}),
    Plot.text(days, {fy: d => d, text: d => "Day " + d, frameAnchor: "top-left", textAnchor: "start", lineAnchor: "middle",
      dx: 19.5, dy: 18, fontSize: 20, fontStyle: "italic", fill: "#000"})
  ]
});
document.getElementById("main").appendChild(main);

// underline the "Day n" labels
main.querySelectorAll("text").forEach(t => {
  if (!/^Day \d$/.test(t.textContent)) return;
  const bb = t.getBBox();
  const ln = document.createElementNS("http://www.w3.org/2000/svg", "line");
  const yU = bb.y + bb.height - 2.6;
  ln.setAttribute("x1", bb.x + 0.5);
  ln.setAttribute("x2", bb.x + bb.width);
  ln.setAttribute("y1", yU);
  ln.setAttribute("y2", yU);
  ln.setAttribute("stroke", "#000");
  ln.setAttribute("stroke-width", "1.3");
  if (t.getAttribute("transform")) ln.setAttribute("transform", t.getAttribute("transform"));
  t.parentNode.appendChild(ln);
});

// axis titles with coloured markers
const svg = d3.select(main);
const lt = svg.append("text")
  .attr("transform", "translate(40,659) rotate(-90)")
  .attr("text-anchor", "middle").attr("dominant-baseline", "central")
  .attr("font-size", 24).attr("font-family", FONT).attr("fill", "#000");
lt.append("tspan").text("Pedaling rate (");
lt.append("tspan").attr("fill", "#000").text("●");
lt.append("tspan").text(") during one-legged recumbent ergometer exercise (rpm)");
const rt = svg.append("text")
  .attr("transform", "translate(984,676) rotate(90)")
  .attr("text-anchor", "middle").attr("dominant-baseline", "central")
  .attr("font-size", 23.5).attr("font-family", FONT).attr("fill", "#000");
rt.append("tspan").text("Downstroke (");
rt.append("tspan").attr("fill", BLUE).text("●");
rt.append("tspan").text(") or upstroke (");
rt.append("tspan").attr("fill", RED).text("●");
rt.append("tspan").text(") pedaling time duration (sec)");

// ---------------- bottom strip: session boxes + x axis ----------------
const stripFrame = stripAxisPx - stripTopPx;
const boxes = sessionNames.map((name, i) => ({name, x1: pxToX(boxPx[i][0]), x2: pxToX(boxPx[i][1])}));
const tickVals = [], labelVals = [], tickLabel = new Map();
sessionTicks.forEach((ticks, i) => ticks.forEach(c => {
  const v = sessionX(i + 1, c);
  tickVals.push(v);
  const lv = v + (labelNudgePx.get((i + 1) + "-" + c) || 0) / pxPerCycle;
  labelVals.push(lv);
  tickLabel.set(lv, c === 0 ? "St" : String(c));
}));

const strip = Plot.plot({
  width: W,
  height: stripH,
  marginTop: 0,
  marginBottom: stripH - stripFrame,
  marginLeft: axisLeftPx,
  marginRight: W - axisRightPx,
  style: {fontFamily: FONT, fontSize: "15px", background: "transparent", overflow: "visible", color: "#000"},
  x: {domain: xDomain},
  y: {domain: [0, stripFrame], axis: null},
  marks: [
    Plot.ruleX(sepPx.map(pxToX), {stroke: GREY, strokeWidth: 5}),
    Plot.rect(boxes, {x1: "x1", x2: "x2", y1: 2, y2: stripFrame, fill: "#fff", stroke: "#3a3a3a", strokeWidth: 1.4}),
    Plot.text(boxes, {x: d => (d.x1 + d.x2) / 2, y: (2 + stripFrame) / 2, text: "name", fontSize: 15.5, fill: "#000"}),
    Plot.axisX(tickVals, {anchor: "bottom", tickSize: 6, tickFormat: () => "", label: null}),
    Plot.axisX(labelVals, {anchor: "bottom", tickSize: 0, tickPadding: 13, fontSize: 15, tickFormat: v => tickLabel.get(v), label: null})
  ]
});
document.getElementById("strip").appendChild(strip);
</script>
</body>
</html>
